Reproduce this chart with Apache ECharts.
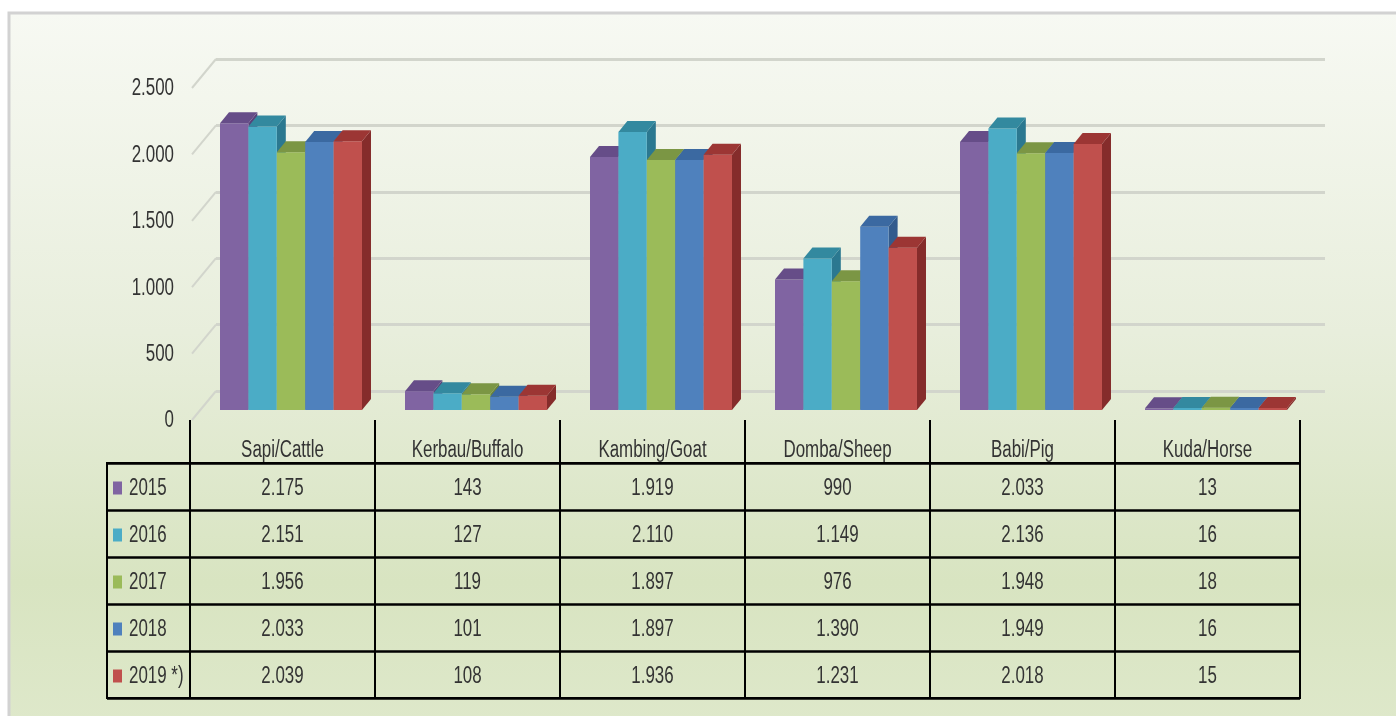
<!DOCTYPE html>
<html><head><meta charset="utf-8">
<script src="https://cdn.jsdelivr.net/npm/echarts@6/dist/echarts.min.js"></script>
<style>html,body{margin:0;padding:0;background:#fff}#c{width:1396px;height:716px}</style>
</head><body><div id="c"></div>
<script>
const categories = ['Sapi/Cattle','Kerbau/Buffalo','Kambing/Goat','Domba/Sheep','Babi/Pig','Kuda/Horse'];
const years = ['2015','2016','2017','2018','2019 *)'];
const v2015 = [2175,143,1919,990,2033,13];
const v2016 = [2151,127,2110,1149,2136,16];
const v2017 = [1956,119,1897,976,1948,18];
const v2018 = [2033,101,1897,1390,1949,16];
const v2019 = [2039,108,1936,1231,2018,15];
const yTicks = [0,500,1000,1500,2000,2500];

const seriesValues = [v2015,v2016,v2017,v2018,v2019];
const colors = ['#8064a2','#4bacc6','#9bbb59','#4f81bd','#c0504d'];
const topColors = ['#664d88','#33899f','#7b9644','#3b69a1','#9c3634'];
const sideColors = ['#58427a','#2b7890','#6b8439','#335b8d','#852c2b'];
const FONT = "'Liberation Sans',Arial,sans-serif";
const TXT = '#333333';
const SX = 0.72;
function fmt(v){ return String(v).replace(/\B(?=(\d{3})+(?!\d))/g,'.'); }

function label(x, y, text, align){
  return {type:'text', x:x, y:y, scaleX:SX,
    style:{text:text, x:0, y:0, align:align, verticalAlign:'middle', fontSize:23.5, fontFamily:FONT, fill:TXT}};
}

const chart = echarts.init(document.getElementById('c'), null, {renderer:'canvas'});

const barSeries = seriesValues.map((vals, s) => ({
  type:'custom', name: years[s], xAxisIndex:2, yAxisIndex:2, z: 3 + s,
  data: categories.map((c,i)=>[i, vals[i]]),
  renderItem: function(params, api){
    const ci = api.value(0), v = api.value(1);
    const base = api.coord([ci, 0]);
    const topP = api.coord([ci, v]);
    const band = api.size([1,0])[0];
    const bw = band * 0.1535;
    const x0 = base[0] - 2.5*bw + s*bw;
    const x1 = x0 + bw;
    const yb = base[1], yt = topP[1];
    const dx = 9, dy = 11;
    return {type:'group', children:[
      {type:'polygon', shape:{points:[[x1,yt],[x1+dx,yt-dy],[x1+dx,yb-dy],[x1,yb]]}, style:{fill:sideColors[s]}},
      {type:'rect', shape:{x:x0,y:yt,width:bw,height:yb-yt}, style:{fill:colors[s]}},
      {type:'polygon', shape:{points:[[x0,yt],[x1,yt],[x1+dx,yt-dy],[x0+dx,yt-dy]]}, style:{fill:topColors[s]}}
    ]};
  }
}));

const cellData = [];
seriesValues.forEach((vals, yi) => vals.forEach((v, ci) => cellData.push([ci, yi, v])));

const option = {
  animation:false,
  graphic:{elements:[
    {type:'rect', z:-10, shape:{x:9,y:13,width:1400,height:710},
     style:{stroke:'#d2d2d2', lineWidth:3,
       fill:new echarts.graphic.LinearGradient(0,0,0,1,[
         {offset:0,color:'#f7f9f3'},{offset:0.45,color:'#e8eedc'},{offset:0.8,color:'#d8e4c1'},{offset:1,color:'#dee8ca'}])}}
  ]},
  grid:[
    {left:216, right:71, top:59, height:332},
    {left:192, width:10, top:88, height:332},
    {left:198.5, width:1110, top:80.5, height:329.5},
    {left:190, width:1110, top:463, height:235, show:true, borderColor:'#000', borderWidth:2, backgroundColor:'transparent'},
    {left:107, width:83, top:463, height:235, show:true, borderColor:'#000', borderWidth:2, backgroundColor:'transparent'}
  ],
  xAxis:[
    {type:'value', gridIndex:0, min:0, max:1, show:false},
    {type:'value', gridIndex:1, min:0, max:1, show:false},
    {type:'category', gridIndex:2, data:categories, show:false},
    {type:'category', gridIndex:3, data:categories, position:'top',
      axisLine:{show:true, lineStyle:{color:'#000', width:2}},
      axisTick:{show:true, length:43, interval:0, lineStyle:{color:'#000', width:2}},
      axisLabel:{show:false},
      splitLine:{show:true, interval:0, lineStyle:{color:'#000', width:2}}},
    {type:'value', gridIndex:4, min:0, max:1, show:false}
  ],
  yAxis:[
    {type:'value', gridIndex:0, min:0, max:2500, interval:500,
      axisLabel:{show:false}, axisLine:{show:false}, axisTick:{show:false},
      splitLine:{lineStyle:{color:'#d2d5cc', width:3}}},
    {type:'value', gridIndex:1, min:0, max:2500, interval:500,
      axisLabel:{show:false}, axisLine:{show:false}, axisTick:{show:false}, splitLine:{show:false}},
    {type:'value', gridIndex:2, min:0, max:2500, show:false},
    {type:'category', gridIndex:3, data:years, inverse:true,
      axisLabel:{show:false}, axisLine:{show:false}, axisTick:{show:false},
      splitLine:{show:true, interval:0, lineStyle:{color:'#000', width:2.5}}},
    {type:'category', gridIndex:4, data:years, inverse:true,
      axisLabel:{show:false}, axisLine:{show:false}, axisTick:{show:false},
      splitLine:{show:true, interval:0, lineStyle:{color:'#000', width:2.5}}}
  ],
  series:[
    {type:'custom', xAxisIndex:0, yAxisIndex:0, z:1,
      data: yTicks.map(v=>[0,v]),
      renderItem:function(params, api){
        const p = api.coord([0, api.value(1)]);
        return {type:'line', shape:{x1:p[0], y1:p[1], x2:p[0]-24, y2:p[1]+29}, style:{stroke:'#d2d5cc', lineWidth:2}};
      }},
    // y-axis tick labels on the front plane
    {type:'custom', xAxisIndex:1, yAxisIndex:1, z:10,
      data: yTicks.map(v=>[0,v]),
      renderItem:function(params, api){
        const p = api.coord([0, api.value(1)]);
        return label(p[0]-18, p[1]+1, fmt(api.value(1)), 'right');
      }},
    ...barSeries,
    // header row labels
    {type:'custom', xAxisIndex:3, yAxisIndex:3, z:10,
      data: categories.map((c,i)=>[i, 0]),
      renderItem:function(params, api){
        const ci = api.value(0);
        const p = api.coord([ci, 0]);
        const rowH = api.size([0,1])[1];
        return label(p[0], p[1] - rowH*0.5 - 12, categories[ci], 'center');
      }},
    // table cell values
    {type:'custom', xAxisIndex:3, yAxisIndex:3, z:10,
      data: cellData,
      renderItem:function(params, api){
        const p = api.coord([api.value(0), api.value(1)]);
        return label(p[0], p[1]+2, fmt(api.value(2)), 'center');
      }},
    // legend column: swatch + year
    {type:'custom', xAxisIndex:4, yAxisIndex:4, z:10,
      data: years.map((y,i)=>[0, i]),
      renderItem:function(params, api){
        const yi = api.value(1);
        const p = api.coord([0, yi]);
        return {type:'group', children:[
          {type:'rect', shape:{x:p[0]+6, y:p[1]-5, width:9, height:13}, style:{fill:colors[yi]}},
          label(p[0]+22, p[1]+2, years[yi], 'left')
        ]};
      }}
  ]
};
chart.setOption(option);
</script>
</body></html>
